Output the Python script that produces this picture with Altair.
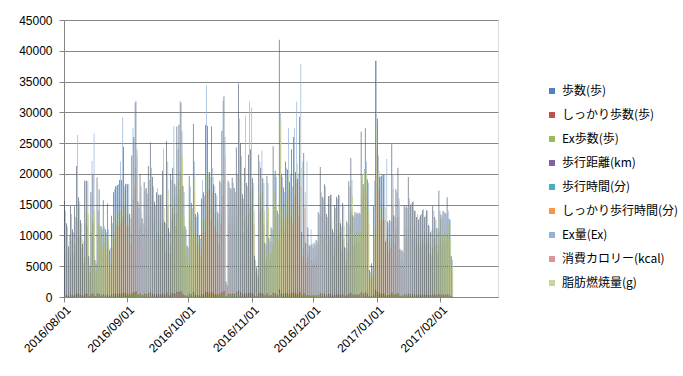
import altair as alt
import pandas as pd

# ---- data ----
series_names = ["歩数(歩)", "しっかり歩数(歩)", "Ex歩数(歩)", "歩行距離(km)", "歩行時間(分)",
                "しっかり歩行時間(分)", "Ex量(Ex)", "消費カロリー(kcal)", "脂肪燃焼量(g)"]
series_colors = ["#4F81BD", "#C0504D", "#9BBB59", "#8064A2", "#4BACC6",
                 "#F79646", "#95B3D7", "#D99694", "#C3D69B"]
draw_order = ["Ex量(Ex)", "消費カロリー(kcal)", "脂肪燃焼量(g)", "歩行距離(km)", "歩行時間(分)",
              "しっかり歩行時間(分)", "しっかり歩数(歩)", "Ex歩数(歩)", "歩数(歩)"]

month_ticks = ["2016/08/01", "2016/09/01", "2016/10/01", "2016/11/01", "2016/12/01",
               "2017/01/01", "2017/02/01", "2017/03/01"]
first_day = "2016-08-01"
axis_last_day = "2017-02-28"

steps = [15600,12000,8200,14800,11000,14700,21300,16200,12500,8600,18900,18900,6600,17000,20000,6000,19400,17500,11500,15700,11000,15200,7600,13200,17000,18000,18200,19000,19000,24400,18400,
         18300,13500,23000,26000,31800,15500,20000,12800,18700,17700,21300,25100,19500,15500,17000,16600,16600,20500,12200,25300,11200,20000,21000,18400,27700,28000,31600,18000,11500,8300,
         19700,15300,28100,13500,13800,10000,16000,17000,28000,27800,20300,27700,18300,16900,13800,18900,27000,32600,2500,18900,17700,19400,17700,24300,34700,25000,16700,21000,18500,23100,24000,
         19300,6700,4800,23100,21000,19300,8800,19700,9600,11300,24500,20500,14000,41800,20000,17800,22000,20700,18700,24000,26000,20300,19200,29300,10500,23400,8800,11300,8300,8600,
         8800,9300,13800,21100,16300,18300,13500,16400,16600,11000,14900,16300,16600,12000,15300,8100,12300,18800,22600,13300,13800,13700,13700,26900,18300,27400,19100,4400,5500,14800,38400,
         29000,19500,19700,19800,9000,12300,12500,24800,13300,17500,21000,7800,7600,14900,14800,19500,15000,15400,14000,13000,12600,13300,14100,13000,14100,11700,10500,14800,13000,11200,17300,
         13400,14000,13700,16200,12700,6600]

firm_steps = [420,310,180,390,260,380,620,450,320,190,540,530,120,480,580,110,560,500,290,430,270,420,160,350,480,510,520,560,590,700,520,
              520,360,660,780,900,410,560,330,520,490,600,720,550,410,480,460,460,590,310,730,290,560,620,520,800,830,920,500,300,200,
              560,420,810,360,370,250,460,470,800,790,570,790,510,470,360,530,780,940,60,530,490,550,490,690,990,720,460,600,520,660,690,
              540,160,110,660,600,540,230,560,250,300,700,580,380,1200,570,500,630,590,530,690,740,570,540,840,290,670,230,300,220,230,
              230,250,380,600,460,520,370,470,470,290,420,460,470,320,430,210,340,540,640,370,390,390,390,770,520,780,540,110,140,420,1100,
              830,550,560,560,250,340,350,710,370,500,600,200,190,420,420,550,420,430,390,360,350,370,400,360,400,320,290,420,360,310,490,
              370,390,380,460,350,170]

ex_steps = [320,260,200,300,240,290,420,330,260,200,370,360,170,340,390,160,380,350,250,320,240,310,190,280,340,360,360,380,390,470,370,
            370,280,440,520,590,310,390,270,370,350,410,480,380,310,340,330,330,410,260,490,240,390,420,370,530,540,590,360,250,200,
            390,320,530,280,290,220,340,340,530,520,400,520,370,340,280,370,520,610,120,370,350,380,350,470,650,480,340,410,370,450,470,
            380,170,140,440,410,380,210,390,220,250,470,400,290,780,400,360,430,410,370,470,500,400,380,560,250,450,210,250,200,210,
            210,220,290,410,340,370,290,340,340,250,310,340,340,260,320,200,280,380,440,290,300,300,300,520,370,520,380,140,160,320,720,
            550,380,390,390,220,270,280,470,290,350,410,190,190,310,310,380,320,320,300,280,280,290,310,280,310,260,240,310,280,250,350,
            290,300,290,340,280,170]

distance_km = [11,8,6,10,8,10,15,11,9,6,13,13,5,12,14,4,14,12,8,11,8,11,5,9,12,13,13,13,13,17,13,
               13,9,16,18,22,11,14,9,13,12,15,18,14,11,12,12,12,14,9,18,8,14,15,13,19,20,22,13,8,6,
               14,11,20,9,10,7,11,12,20,19,14,19,13,12,10,13,19,23,2,13,12,14,12,17,24,18,12,15,13,16,17,
               14,5,3,16,15,14,6,14,7,8,17,14,10,29,14,12,15,14,13,17,18,14,13,21,7,16,6,8,6,6,
               6,7,10,15,11,13,9,11,12,8,10,11,12,8,11,6,9,13,16,9,10,10,10,19,13,19,13,3,4,10,27,
               20,14,14,14,6,9,9,17,9,12,15,5,5,10,10,14,11,11,10,9,9,9,10,9,10,8,7,10,9,8,12,
               9,10,10,11,9,5]

walk_min = [150,120,85,145,110,145,210,160,125,90,185,185,70,170,195,65,190,175,115,155,110,150,80,130,170,180,180,185,190,240,180,
            180,135,225,255,310,155,195,130,185,175,210,245,190,155,170,165,165,200,120,250,110,195,205,180,270,275,310,175,115,85,
            195,150,275,135,135,100,160,165,275,270,200,270,180,165,135,185,265,320,30,185,175,190,175,240,340,245,165,205,180,225,235,
            190,65,50,225,205,190,90,195,95,110,240,200,140,410,195,175,215,205,185,235,255,200,190,290,105,230,90,110,85,85,
            85,90,135,205,160,180,135,160,165,110,145,160,165,120,150,80,120,185,220,130,135,135,135,265,180,270,185,45,55,145,375,
            285,190,195,195,90,120,125,245,130,170,205,75,75,145,145,190,150,150,140,130,125,130,140,130,140,115,105,145,130,110,170,
            130,140,135,160,125,65]

firm_walk_min = [45,35,25,45,35,45,65,50,40,25,55,55,20,50,60,20,60,55,35,45,35,45,25,40,50,55,55,55,55,70,55,
                 55,40,70,80,95,45,60,40,55,55,65,75,55,45,50,50,50,60,35,75,35,60,60,55,80,85,95,55,35,25,
                 60,45,85,40,40,30,50,50,85,80,60,80,55,50,40,55,80,95,10,55,55,55,55,70,105,75,50,60,55,70,70,
                 55,20,15,70,60,55,25,60,30,35,75,60,40,125,60,55,65,60,55,70,75,60,60,90,30,70,25,35,25,25,
                 25,30,40,60,50,55,40,50,50,35,45,50,50,35,45,25,35,55,70,40,40,40,40,80,55,80,55,15,15,45,115,
                 85,60,60,60,25,35,40,75,40,50,60,25,25,45,45,60,45,45,40,40,40,40,40,40,40,35,30,45,40,35,50,
                 40,40,40,50,40,20]

ex_amount = [14000,11500,10000,13500,10500,13000,26300,15500,12000,9000,18900,18800,5000,22100,26600,5500,14000,11500,11000,11500,10500,11000,8000,12000,17500,18000,18300,22000,29200,18000,18400,
             18400,12800,27500,31500,24000,14500,18000,12000,17500,16800,19000,21000,18000,15000,17700,16600,16600,24100,12000,22000,10500,19000,27800,18000,24000,31900,27000,17000,11000,8000,
             18000,14500,22000,13000,13500,9500,19000,16500,34400,20000,19500,21000,18000,16500,13500,18500,31900,26000,2000,18500,17500,18500,17000,20000,29000,22900,16000,29500,18000,31800,30800,
             18500,6000,4500,22000,23800,18500,8500,18500,9000,11000,20000,19500,13500,30000,19500,17000,21000,27400,20000,18000,27500,31700,19800,37900,22000,10000,22000,8500,11000,8000,
             8500,9000,13500,17000,16000,18000,13000,16400,16600,10500,14500,16000,16500,11500,15000,8000,12000,18000,19000,13000,13500,13500,13500,20000,20800,22000,18500,4000,5000,18900,38400,
             23000,19600,19800,19900,22400,12000,12300,20000,13000,17000,16000,7500,7300,14500,14500,16000,15200,15600,14000,13500,13000,13500,14300,13200,14000,11500,10800,14000,12500,11000,14000,
             13000,13800,13500,14000,12500,6000]

kcal = [10000,7500,6000,9000,7000,8500,12500,10000,8000,5500,12000,11500,4000,10500,12000,4000,10000,9500,7000,9000,7000,8500,4500,8000,10500,11500,11500,12000,13000,15000,11500,
        11500,8500,14000,18000,20000,10000,12000,8000,11500,11000,13000,15500,12000,9500,10500,10000,10000,12500,7500,15000,7000,12500,13500,11500,16500,17500,20000,11000,7000,5000,
        12500,9500,17000,8500,8500,6500,10500,10500,17000,17500,12500,17000,11500,10500,8500,12000,16500,20000,1500,12000,11000,12000,11000,15000,22000,16000,10500,13000,11500,14500,15000,
        12000,4000,3000,14000,14500,12000,5500,12500,6000,7000,15000,13000,9000,26000,12500,11000,13500,17500,13000,12000,16500,18500,13000,18000,6500,14500,5500,7000,5000,5300,
        5500,6000,8500,13000,10000,11500,8500,10000,10500,6500,9500,10000,10500,7500,9500,5000,7500,11500,14000,8500,9000,9000,9000,16500,17500,17000,12000,2800,3400,9500,24000,
        17500,12500,12500,12500,9500,7500,8000,15000,8500,11000,13000,5000,4500,9500,9500,12500,9500,9500,9000,8500,8000,8500,9000,8500,9000,7000,6500,9500,8500,7000,10500,
        8500,9000,8500,10000,8000,4000]

fat_g = [11800,9000,7000,10500,8500,10000,14500,12000,9500,6500,14000,13500,4800,12500,14000,4500,12000,11000,8500,10500,8000,10000,5500,9500,12500,13500,13800,14000,15000,17500,13500,
         13500,10000,16000,21000,23000,11500,14000,9500,13500,13000,15000,18000,14000,11000,12500,12000,12000,14500,9000,17500,8500,14500,16000,13500,19000,20500,23000,13000,8500,6000,
         14500,11000,19500,10000,10000,7500,12500,12500,20000,20300,14500,19500,13500,12500,10000,14000,19000,23000,1800,14000,13000,14000,13000,17500,25000,18500,12500,15000,13500,17000,17500,
         14000,5000,3500,16500,17000,14000,6500,14500,7000,8500,17500,15000,10500,29000,14500,13000,16000,20500,15000,14000,19000,21700,15000,21000,8000,17000,6500,8500,6000,6300,
         6500,7000,10000,15500,12000,13500,10000,12000,12500,8000,11000,12000,12500,9000,11500,6000,9000,13500,16500,10000,10500,10500,10500,19500,20800,20000,14000,3300,4000,11000,28000,
         20500,14500,14500,14500,11000,9000,9500,17500,10000,13000,15500,6000,5500,11000,11000,14500,11500,11500,10500,10000,9500,10000,10500,10000,10500,8500,8000,11000,10000,8500,12500,
         10000,10500,10000,12000,9500,5000]

values_by_series = {
    "歩数(歩)": steps, "しっかり歩数(歩)": firm_steps, "Ex歩数(歩)": ex_steps,
    "歩行距離(km)": distance_km, "歩行時間(分)": walk_min, "しっかり歩行時間(分)": firm_walk_min,
    "Ex量(Ex)": ex_amount, "消費カロリー(kcal)": kcal, "脂肪燃焼量(g)": fat_g,
}

# ---- table ----
all_days = [d.strftime("%Y/%m/%d") for d in pd.date_range(first_day, axis_last_day, freq="D")]
data_days = all_days[:len(steps)]
rows = []
for s in draw_order:
    for d, v in zip(data_days, values_by_series[s]):
        rows.append({"date": d, "series": s, "value": v})
df = pd.DataFrame(rows)

FONT = "Liberation Sans"
JP = "Noto Sans CJK JP"

x_enc = alt.X("date:O", title=None,
              scale=alt.Scale(domain=all_days, paddingInner=0, paddingOuter=0),
              axis=alt.Axis(values=month_ticks, labelAngle=-45, bandPosition=0, grid=False,
                            labelFont=FONT, labelFontSize=12, labelColor="#000000",
                            domainColor="#868686", tickColor="#868686", tickSize=5,
                            labelPadding=2))
xo_enc = alt.XOffset("series:N", scale=alt.Scale(domain=series_names, paddingInner=0, paddingOuter=1))
y_enc = alt.Y("value:Q", title=None,
              scale=alt.Scale(domain=[0, 45000], nice=False),
              axis=alt.Axis(values=list(range(0, 45001, 5000)), format="d", grid=True,
                            gridColor="#868686", gridWidth=1,
                            labelFont=FONT, labelFontSize=12, labelColor="#000000",
                            domainColor="#868686", tickColor="#868686", tickSize=5,
                            labelPadding=7))
color_enc = alt.Color("series:N",
                      scale=alt.Scale(domain=series_names, range=series_colors),
                      legend=alt.Legend(title=None, orient="none", legendX=482, legendY=65,
                                        symbolType="square", symbolSize=36, symbolStrokeWidth=0,
                                        labelFont=JP, labelFontSize=12, labelColor="#000000",
                                        rowPadding=12, labelOffset=4))

ex_bars = alt.Chart(df).transform_filter(
    alt.datum.series == "Ex量(Ex)"
).mark_bar(width=0.7).encode(x=x_enc, xOffset=xo_enc, y=y_enc, color=color_enc)

bars = alt.Chart(df).transform_filter(
    (alt.datum.series != "歩数(歩)") & (alt.datum.series != "Ex量(Ex)")
).mark_bar(width=1.0).encode(x=x_enc, xOffset=xo_enc, y=y_enc, color=color_enc)

# 歩数 columns render as thin dark lines in the reference
step_lines = alt.Chart(df).transform_filter(
    alt.datum.series == "歩数(歩)"
).mark_bar(width=0.6, color="#3E4E63").encode(x=x_enc, xOffset=xo_enc, y=y_enc)

chart = alt.layer(ex_bars, bars, step_lines).properties(
    width=434, height=277,
    autosize=alt.AutoSizeParams(type="none"),
    padding={"left": 64, "top": 20, "right": 185, "bottom": 79},
).configure_view(stroke=None).configure(background="#ffffff")

chart.save("out.html", embed_options={"renderer": "svg", "actions": False})
